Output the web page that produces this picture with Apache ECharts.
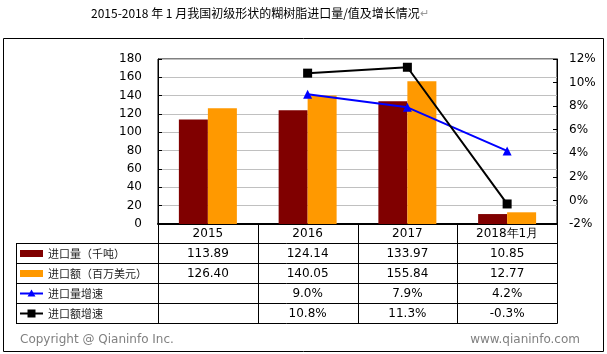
<!DOCTYPE html>
<html>
<head>
<meta charset="utf-8">
<script src="https://cdn.jsdelivr.net/npm/echarts@6/dist/echarts.min.js"></script>
<style>
  html, body { margin: 0; padding: 0; background: #fff; }
  #main { width: 607px; height: 354px; }
</style>
</head>
<body>
<div id="main"></div>
<script>
  // 数据
  var categories = ['2015', '2016', '2017', '2018年1月']
  var volume = [113.89, 124.14, 133.97, 10.85]        // 进口量（千吨）
  var amount = [126.40, 140.05, 155.84, 12.77]        // 进口额（百万美元）
  var volumeGrowth = [null, 9.0, 7.9, 4.2]            // 进口量增速 %
  var amountGrowth = [null, 10.8, 11.3, -0.3]         // 进口额增速 %
  var rowNames = ['进口量（千吨）', '进口额（百万美元）', '进口量增速', '进口额增速']

  var latin = '"DejaVu Sans", Verdana, sans-serif'
  var cjk = '"Noto Sans CJK SC", sans-serif'

  // 布局
  var gridLeft = 158, gridRight = 557, gridTop = 59, gridBottom = 224
  var tableLeft = 16, headerBottom = 243, rowH = 20
  var catW = (gridRight - gridLeft) / categories.length

  function fmt2(v) { return v == null ? '' : v.toFixed(2) }
  function fmtPct(v) { return v == null ? '' : v.toFixed(1) + '%' }

  var rows = [
    volume.map(fmt2),
    amount.map(fmt2),
    volumeGrowth.map(fmtPct),
    amountGrowth.map(fmtPct)
  ]

  var graphics = []

  // 外框
  graphics.push({
    type: 'rect',
    shape: { x: 3.5, y: 38.5, width: 600, height: 313 },
    style: { fill: 'none', stroke: '#000', lineWidth: 1 }
  })

  // 表格线
  var tableBottom = headerBottom + rowH * rows.length
  for (var r = 0; r <= rows.length; r++) {
    var y = headerBottom + r * rowH + 0.5
    graphics.push({
      type: 'line',
      shape: { x1: tableLeft, y1: y, x2: gridRight + 0.5, y2: y },
      style: { stroke: '#000', lineWidth: 1 }
    })
  }
  graphics.push({
    type: 'line',
    shape: { x1: tableLeft + 0.5, y1: headerBottom, x2: tableLeft + 0.5, y2: tableBottom + 0.5 },
    style: { stroke: '#000', lineWidth: 1 }
  })
  for (var c = 0; c <= categories.length; c++) {
    var x = Math.round(gridLeft + c * catW) + 0.5
    graphics.push({
      type: 'line',
      shape: { x1: x, y1: gridBottom, x2: x, y2: tableBottom + 0.5 },
      style: { stroke: '#000', lineWidth: 1 }
    })
  }

  // 表格内容
  rows.forEach(function (row, r) {
    var cy = headerBottom + r * rowH + rowH / 2 + 0.5
    graphics.push({
      type: 'text',
      style: {
        text: rowNames[r], x: 48, y: cy,
        align: 'left', verticalAlign: 'middle',
        font: '11px ' + cjk, fill: '#222'
      }
    })
    row.forEach(function (txt, c) {
      graphics.push({
        type: 'text',
        style: {
          text: txt, x: gridLeft + c * catW + catW / 2, y: cy,
          align: 'center', verticalAlign: 'middle',
          font: '12px ' + latin, fill: '#000'
        }
      })
    })
  })

  // 图例图标
  var iconX = 20, iconW = 23
  var legendY = function (r) { return headerBottom + r * rowH + rowH / 2 + 0.5 }
  graphics.push({ type: 'rect', shape: { x: iconX, y: legendY(0) - 3.5, width: iconW, height: 7 }, style: { fill: '#800000' } })
  graphics.push({ type: 'rect', shape: { x: iconX, y: legendY(1) - 3.5, width: iconW, height: 7 }, style: { fill: '#FF9900' } })
  graphics.push({ type: 'line', shape: { x1: iconX, y1: legendY(2), x2: iconX + iconW, y2: legendY(2) }, style: { stroke: '#0000FF', lineWidth: 2 } })
  graphics.push({
    type: 'polygon',
    shape: { points: [[iconX + iconW / 2, legendY(2) - 4], [iconX + iconW / 2 - 4, legendY(2) + 3], [iconX + iconW / 2 + 4, legendY(2) + 3]] },
    style: { fill: '#0000FF' }
  })
  graphics.push({ type: 'line', shape: { x1: iconX, y1: legendY(3), x2: iconX + iconW, y2: legendY(3) }, style: { stroke: '#000', lineWidth: 2 } })
  graphics.push({ type: 'rect', shape: { x: iconX + iconW / 2 - 4, y: legendY(3) - 4, width: 8, height: 8 }, style: { fill: '#000' } })

  // 版权
  graphics.push({
    type: 'text',
    style: { text: 'Copyright @ Qianinfo Inc.', x: 20, y: 340, align: 'left', verticalAlign: 'middle', font: '12px ' + latin, fill: '#808080' }
  })
  graphics.push({
    type: 'text',
    style: { text: 'www.qianinfo.com', x: 580, y: 340, align: 'right', verticalAlign: 'middle', font: '12px ' + latin, fill: '#808080' }
  })

  var myChart = echarts.init(document.getElementById('main'))
  var option = {
    animation: false,
    title: {
      text: '2015-2018 年 1 月我国初级形状的糊树脂进口量/值及增长情况{a|↵}',
      left: 86,
      top: 2,
      textStyle: {
        fontSize: 12,
        fontWeight: 'normal',
        color: '#000',
        fontFamily: cjk,
        rich: { a: { color: '#999', fontSize: 11 } }
      }
    },
    grid: {
      left: gridLeft,
      right: 607 - gridRight,
      top: gridTop,
      bottom: 354 - gridBottom,
      show: true,
      borderColor: '#000',
      borderWidth: 1
    },
    xAxis: {
      type: 'category',
      data: categories,
      axisLine: { lineStyle: { color: '#000', width: 2 } },
      axisTick: { show: false },
      axisLabel: { color: '#000', fontSize: 12, fontFamily: latin, margin: 4 }
    },
    yAxis: [
      {
        type: 'value',
        min: 0,
        max: 180,
        interval: 20,
        axisLine: { show: true, lineStyle: { color: '#000' } },
        axisTick: { show: true, inside: true, length: 4, lineStyle: { color: '#000' } },
        axisLabel: { color: '#000', fontSize: 12, fontFamily: latin, margin: 16 },
        splitLine: { lineStyle: { color: '#c0c0c0', width: 1 } }
      },
      {
        type: 'value',
        min: -2,
        max: 12,
        interval: 2,
        axisLine: { show: true, lineStyle: { color: '#000' } },
        axisTick: { show: true, inside: true, length: 4, lineStyle: { color: '#000' } },
        axisLabel: { color: '#000', fontSize: 12, fontFamily: latin, margin: 12, formatter: '{value}%' },
        splitLine: { show: false }
      }
    ],
    series: [
      {
        name: '进口量（千吨）',
        type: 'bar',
        data: volume,
        barWidth: 29,
        barGap: '0%',
        itemStyle: { color: '#800000' }
      },
      {
        name: '进口额（百万美元）',
        type: 'bar',
        data: amount,
        barWidth: 29,
        itemStyle: { color: '#FF9900' }
      },
      {
        name: '进口量增速',
        type: 'line',
        yAxisIndex: 1,
        data: volumeGrowth,
        symbol: 'triangle',
        symbolSize: 9,
        lineStyle: { color: '#0000FF', width: 2 },
        itemStyle: { color: '#0000FF' }
      },
      {
        name: '进口额增速',
        type: 'line',
        yAxisIndex: 1,
        data: amountGrowth,
        symbol: 'rect',
        symbolSize: 9,
        lineStyle: { color: '#000', width: 2 },
        itemStyle: { color: '#000' }
      }
    ],
    graphic: graphics
  }
  myChart.setOption(option)
</script>
</body>
</html>
